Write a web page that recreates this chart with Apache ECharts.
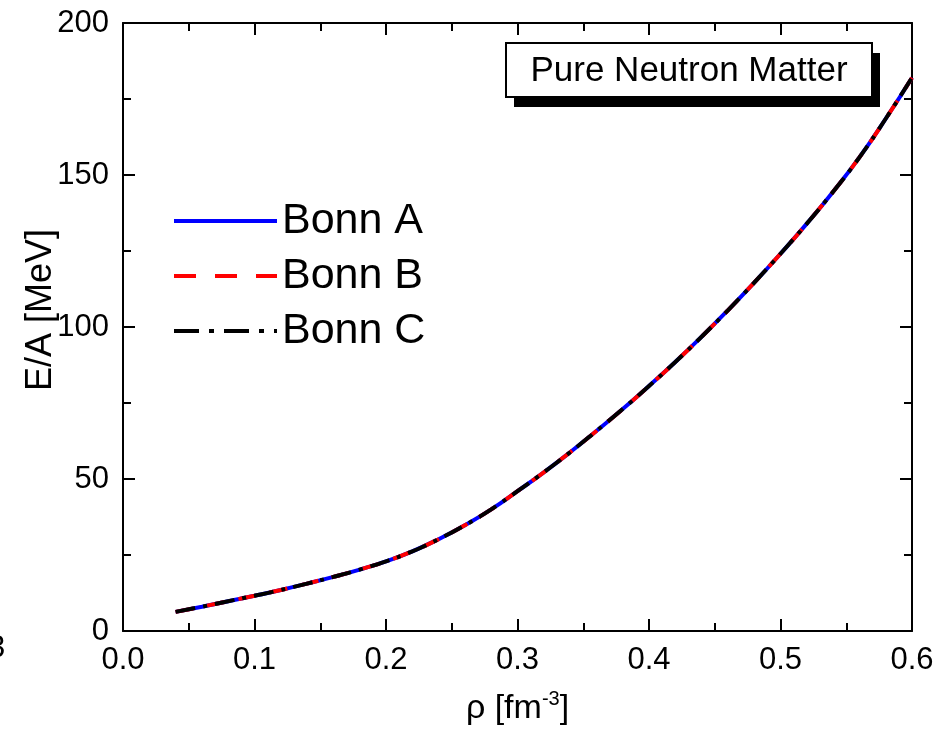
<!DOCTYPE html>
<html>
<head>
<meta charset="utf-8">
<script src="https://cdn.jsdelivr.net/npm/echarts@6/dist/echarts.min.js"></script>
<style>
html,body{margin:0;padding:0;background:#fff;}
#chart{width:948px;height:731px;}
</style>
</head>
<body>
<div id="chart"></div>
<script>
// Density values rho [fm^-3]
var rho = [0.04,0.06,0.08,0.10,0.12,0.14,0.16,0.18,0.20,0.22,0.24,0.26,0.28,0.30,0.32,0.34,0.36,0.38,0.40,0.42,0.44,0.46,0.48,0.50,0.52,0.54,0.56,0.58,0.60];
// E/A [MeV] for each potential (curves coincide in the figure)
var bonnA = [6.3,8.0,9.8,11.6,13.5,15.6,17.8,20.2,22.9,26.2,30.2,34.8,40.0,46.0,52.2,58.8,65.8,73.0,80.6,88.5,96.8,105.5,114.6,124.1,134.0,144.5,155.8,168.5,182.0];
var bonnB = [6.3,8.0,9.8,11.6,13.5,15.6,17.8,20.2,22.9,26.2,30.2,34.8,40.0,46.0,52.2,58.8,65.8,73.0,80.6,88.5,96.8,105.5,114.6,124.1,134.0,144.5,155.8,168.5,182.0];
var bonnC = [6.3,8.0,9.8,11.6,13.5,15.6,17.8,20.2,22.9,26.2,30.2,34.8,40.0,46.0,52.2,58.8,65.8,73.0,80.6,88.5,96.8,105.5,114.6,124.1,134.0,144.5,155.8,168.5,182.0];
var seriesNames = ['Bonn A','Bonn B','Bonn C'];
var xTicks = {min:0, max:0.6, interval:0.1};
var yTicks = {min:0, max:200, interval:50};

function pairs(xs, ys){ return xs.map(function(x,i){ return [x, ys[i]]; }); }

var FONT = 'Liberation Sans, Arial, sans-serif';
var chart = echarts.init(document.getElementById('chart'), null, {renderer:'canvas'});

function axisCommon(){
  return {
    axisLine:{show:true, onZero:false, lineStyle:{color:'#000', width:2}},
    axisTick:{show:true, inside:true, length:12, lineStyle:{color:'#000', width:2}},
    minorTick:{show:true, splitNumber:2, length:8, lineStyle:{color:'#000', width:2}},
    splitLine:{show:false}
  };
}

var option = {
  backgroundColor:'#fff',
  animation:false,
  grid:{left:123, right:36, top:23, bottom:99},
  legend:{
    orient:'vertical', left:167, top:194,
    itemWidth:103, itemHeight:8, itemGap:11,
    data:[
      {name:seriesNames[0]},
      {name:seriesNames[1], lineStyle:{type:[22,19]}},
      {name:seriesNames[2], lineStyle:{type:[25,10,5,10]}}
    ],
    itemStyle:{opacity:0},
    lineStyle:{width:4},
    textStyle:{fontFamily:FONT, fontSize:43, color:'#000', lineHeight:44, padding:[0,0,0,0]}
  },
  xAxis:[
    Object.assign(axisCommon(), {
      type:'value', position:'bottom', min:xTicks.min, max:xTicks.max, interval:xTicks.interval,
      axisLabel:{show:true, margin:14, fontFamily:FONT, fontSize:31, color:'#000',
        formatter:function(v){ return v.toFixed(1); }},
      name:'{a|ρ [fm}{s|-3}{a|]}', nameLocation:'middle', nameGap:58,
      nameTextStyle:{rich:{
        a:{fontFamily:FONT, fontSize:34, color:'#000', lineHeight:40},
        s:{fontFamily:FONT, fontSize:20, color:'#000', verticalAlign:'top', lineHeight:40}
      }}
    }),
    Object.assign(axisCommon(), {
      type:'value', position:'top', min:xTicks.min, max:xTicks.max, interval:xTicks.interval,
      axisLabel:{show:false}
    })
  ],
  yAxis:[
    Object.assign(axisCommon(), {
      type:'value', position:'left', min:yTicks.min, max:yTicks.max, interval:yTicks.interval,
      axisLabel:{show:true, margin:14, fontFamily:FONT, fontSize:31, color:'#000'}
    }),
    Object.assign(axisCommon(), {
      type:'value', position:'right', min:yTicks.min, max:yTicks.max, interval:yTicks.interval,
      axisLabel:{show:false}
    })
  ],
  series:[
    {name:seriesNames[0], type:'line', symbol:'none', smooth:true, color:'#0000ff',
      lineStyle:{color:'#0000ff', width:4, type:'solid'}, data:pairs(rho,bonnA), z:2},
    {name:seriesNames[1], type:'line', symbol:'none', smooth:true, color:'#ff0000',
      lineStyle:{color:'#ff0000', width:4, type:[18,14]}, data:pairs(rho,bonnB), z:3},
    {name:seriesNames[2], type:'line', symbol:'none', smooth:true, color:'#000000',
      lineStyle:{color:'#000000', width:4, type:[20,8,4,8]}, data:pairs(rho,bonnC), z:4}
  ],
  graphic:[
    {type:'text', x:41, y:310, rotation:Math.PI/2,
      style:{text:'E/A [MeV]', fontFamily:FONT, fontSize:36, fill:'#000', textAlign:'center', textVerticalAlign:'middle'}},
    {type:'rect', x:514, y:53, shape:{width:366, height:54}, style:{fill:'#000'}, z:10},
    {type:'rect', x:506, y:43, shape:{width:366, height:54}, style:{fill:'#fff', stroke:'#000', lineWidth:2}, z:11},
    {type:'text', x:689, y:71, z:12,
      style:{text:'Pure Neutron Matter', fontFamily:FONT, fontSize:35, fill:'#000', textAlign:'center', textVerticalAlign:'middle'}},
    {type:'text', x:-12, y:648,
      style:{text:'3', fontFamily:FONT, fontSize:31, fill:'#000', textAlign:'left', textVerticalAlign:'middle'}}
  ]
};
chart.setOption(option);
</script>
</body>
</html>
